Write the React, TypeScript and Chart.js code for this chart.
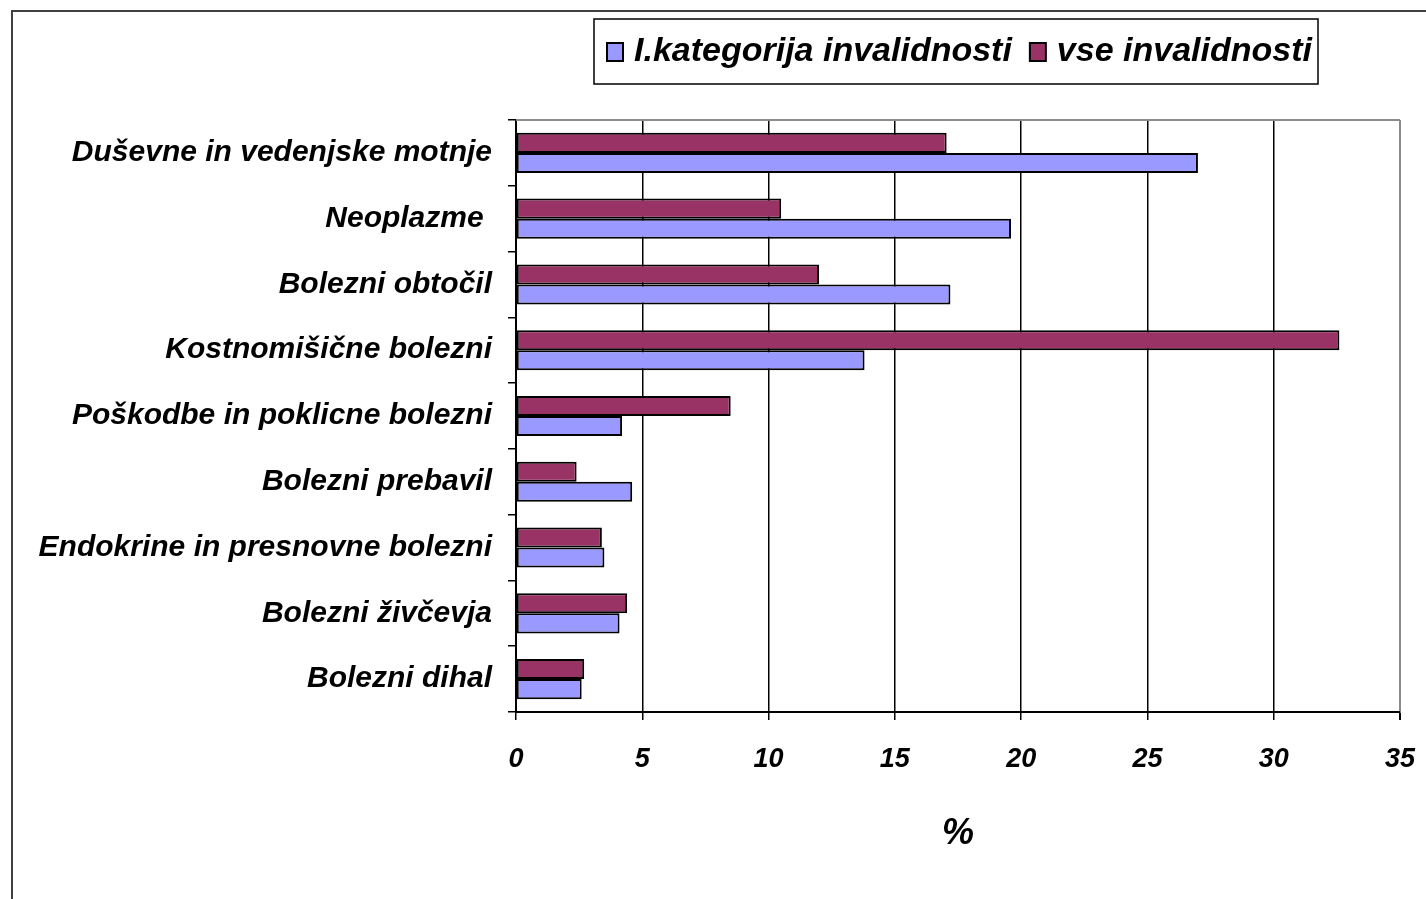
import React, { useEffect, useRef } from "react";
import { Chart, registerables } from "chart.js";

Chart.register(...registerables);

const categories: string[] = [
  "Duševne in vedenjske motnje",
  "Neoplazme ",
  "Bolezni obtočil",
  "Kostnomišične bolezni",
  "Poškodbe in poklicne bolezni",
  "Bolezni prebavil",
  "Endokrine in presnovne bolezni",
  "Bolezni živčevja",
  "Bolezni dihal",
];

const seriesKategorija: number[] = [27.0, 19.6, 17.2, 13.8, 4.2, 4.6, 3.5, 4.1, 2.6];
const seriesVse: number[] = [17.05, 10.5, 12.0, 32.6, 8.5, 2.4, 3.4, 4.4, 2.7];

const labelKategorija = "I.kategorija invalidnosti";
const labelVse = "vse invalidnosti";
const axisTitle = "%";

const FONT = "'Liberation Sans', Arial, sans-serif";

const framePlugin = {
  id: "frame",
  beforeDraw(chart: any) {
    const ctx = chart.ctx;
    ctx.save();
    ctx.fillStyle = "#ffffff";
    ctx.fillRect(0, 0, chart.width, chart.height);
    ctx.strokeStyle = "#404040";
    ctx.lineWidth = 2;
    ctx.beginPath();
    ctx.moveTo(12, chart.height);
    ctx.lineTo(12, 11);
    ctx.lineTo(chart.width, 11);
    ctx.stroke();
    ctx.restore();
  },
  afterDraw(chart: any) {
    const ctx = chart.ctx;
    const a = chart.chartArea;
    ctx.save();
    // plot area top border (gray)
    ctx.strokeStyle = "#8c8c8c";
    ctx.lineWidth = 2;
    ctx.beginPath();
    ctx.moveTo(a.left, a.top);
    ctx.lineTo(a.right, a.top);
    ctx.stroke();

    // legend box
    const bx = 594, by = 19, bw = 724, bh = 65;
    ctx.fillStyle = "#ffffff";
    ctx.fillRect(bx, by, bw, bh);
    ctx.strokeStyle = "#000000";
    ctx.lineWidth = 1.5;
    ctx.strokeRect(bx, by, bw, bh);

    ctx.font = `italic bold 34px ${FONT}`;
    ctx.textBaseline = "alphabetic";
    ctx.textAlign = "left";
    const items = [chart.data.datasets[1], chart.data.datasets[0]];
    let x = 607;
    const baseY = 61;
    items.forEach((ds: any) => {
      ctx.fillStyle = ds.backgroundColor;
      ctx.fillRect(x, 43, 16, 18);
      ctx.strokeStyle = "#000";
      ctx.lineWidth = 2;
      ctx.strokeRect(x, 43, 16, 18);
      const tx = x + 27;
      ctx.fillStyle = "#000";
      ctx.fillText(ds.label, tx, baseY);
      x = tx + ctx.measureText(ds.label).width + 18;
    });
    ctx.restore();
  },
};

export default function App() {
  const ref = useRef<HTMLCanvasElement | null>(null);

  useEffect(() => {
    if (!ref.current) return;
    const chart = new Chart(ref.current, {
      type: "bar",
      data: {
        labels: categories,
        datasets: [
          {
            label: labelVse,
            data: seriesVse,
            backgroundColor: "#993366",
            borderColor: "#000000",
            borderWidth: 2,
            borderSkipped: false,
            categoryPercentage: 0.61,
            barPercentage: 1.0,
          },
          {
            label: labelKategorija,
            data: seriesKategorija,
            backgroundColor: "#9999ff",
            borderColor: "#000000",
            borderWidth: 2,
            borderSkipped: false,
            categoryPercentage: 0.61,
            barPercentage: 1.0,
          },
        ],
      },
      options: {
        indexAxis: "y",
        responsive: false,
        animation: false,
        layout: { padding: { top: 120, right: 26, left: 0, bottom: 0 } },
        plugins: {
          legend: { display: false },
          tooltip: { enabled: false },
          title: { display: false },
        },
        scales: {
          x: {
            min: 0,
            max: 35,
            ticks: {
              stepSize: 5,
              color: "#000",
              padding: 23,
              font: { family: FONT, size: 27, style: "italic", weight: "bold" },
            },
            grid: {
              color: (c: any) => (c.tick && c.tick.value === 35 ? "#8c8c8c" : "#000000"),
              lineWidth: (c: any) => (c.tick && c.tick.value === 35 ? 2 : 1.5),
              tickColor: "#000000",
              tickLength: 8,
              drawTicks: true,
            },
            border: { color: "#000000", width: 2 },
            title: {
              display: true,
              text: axisTitle,
              color: "#000",
              font: { family: FONT, size: 36, style: "italic", weight: "bold" },
              padding: { top: 0, bottom: 43 },
            },
            afterFit(scale: any) {
              scale.height = 187;
              scale.paddingRight = 0;
              scale.paddingLeft = 0;
            },
          },
          y: {
            ticks: {
              color: "#000",
              padding: 16,
              font: { family: FONT, size: 30, style: "italic", weight: "bold" },
            },
            grid: {
              drawOnChartArea: false,
              drawTicks: true,
              tickLength: 8,
              color: "#000000",
              lineWidth: 1.5,
              offset: true,
            },
            border: { color: "#000000", width: 2 },
            afterFit(scale: any) {
              scale.width = 516;
              scale.paddingTop = 0;
              scale.paddingBottom = 0;
            },
          },
        },
      },
      plugins: [framePlugin],
    });
    return () => chart.destroy();
  }, []);

  return (
    <div style={{ position: "fixed", left: 0, top: 0, width: 1426, height: 899, background: "#fff" }}>
      <canvas ref={ref} width={1426} height={899} style={{ display: "block" }} />
    </div>
  );
}
